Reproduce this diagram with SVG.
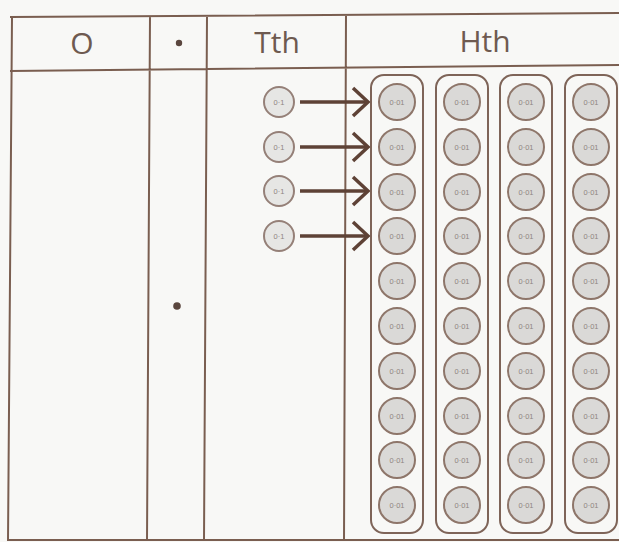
<svg xmlns="http://www.w3.org/2000/svg" width="619" height="542" viewBox="0 0 619 542">
<style>
.grid{fill:none;stroke:#7a5e50;stroke-width:2}
.hd{font-family:"Open Sans","Noto Sans",sans-serif;font-size:30px;fill:#6e5a50;text-anchor:middle}
.col{fill:none;stroke:#7e6458;stroke-width:2}
.c{fill:#dad9d7;stroke:#8e766a;stroke-width:2}
.ct{fill:#e6e6e4;stroke:#958078;stroke-width:2}
.lb{font-family:"Liberation Sans",Arial,sans-serif;font-size:7.5px;fill:#8f8580;text-anchor:middle}
.ar{stroke:#5e4236;stroke-width:3.5;fill:none}
</style>
<defs>
<marker id="ah" markerWidth="22" markerHeight="34" refX="18" refY="16" orient="auto" markerUnits="userSpaceOnUse">
<polyline points="3,2 18,16 3,30" fill="none" stroke="#5e4236" stroke-width="3.5"/>
</marker>
</defs>
<rect width="619" height="542" fill="#f8f8f6"/>
<g id="table">
<path class="grid" d="M10,17 L619,13 M10,71 L619,65 M12,17 L8,541 M150,16 L147,541 M207,16 L204,541 M346,14 L344,541 M8,540 L619,540"/>
<text class="hd" x="82" y="54">O</text>
<circle cx="179" cy="43" r="3.2" fill="#5a463e"/>
<text class="hd" x="277" y="53">Tth</text>
<text class="hd" x="485" y="52">Hth</text>
<circle cx="177" cy="306" r="3.8" fill="#5a463e"/>
</g>
<g id="tth">
<g id="t1"><circle class="ct" cx="279" cy="102" r="15"/><text class="lb" x="279" y="104.5">0·1</text></g>
<g id="t2"><circle class="ct" cx="279" cy="147" r="15"/><text class="lb" x="279" y="149.5">0·1</text></g>
<g id="t3"><circle class="ct" cx="279" cy="191" r="15"/><text class="lb" x="279" y="193.5">0·1</text></g>
<g id="t4"><circle class="ct" cx="279" cy="236" r="15"/><text class="lb" x="279" y="238.5">0·1</text></g>
</g>
<g id="connectors">
<line class="ar" x1="300" y1="102" x2="368" y2="102" marker-end="url(#ah)"/>
<line class="ar" x1="300" y1="147" x2="368" y2="147" marker-end="url(#ah)"/>
<line class="ar" x1="300" y1="191" x2="368" y2="191" marker-end="url(#ah)"/>
<line class="ar" x1="300" y1="236" x2="368" y2="236" marker-end="url(#ah)"/>
</g>
<g id="hth1">
<rect class="col" x="371" y="75" width="52" height="458" rx="13"/>
<g id="h1-1"><circle class="c" cx="397" cy="102" r="18"/><text class="lb" x="397" y="104.5">0·01</text></g>
<g id="h1-2"><circle class="c" cx="397" cy="147" r="18"/><text class="lb" x="397" y="149.5">0·01</text></g>
<g id="h1-3"><circle class="c" cx="397" cy="192" r="18"/><text class="lb" x="397" y="194.5">0·01</text></g>
<g id="h1-4"><circle class="c" cx="397" cy="236" r="18"/><text class="lb" x="397" y="238.5">0·01</text></g>
<g id="h1-5"><circle class="c" cx="397" cy="281" r="18"/><text class="lb" x="397" y="283.5">0·01</text></g>
<g id="h1-6"><circle class="c" cx="397" cy="326" r="18"/><text class="lb" x="397" y="328.5">0·01</text></g>
<g id="h1-7"><circle class="c" cx="397" cy="371" r="18"/><text class="lb" x="397" y="373.5">0·01</text></g>
<g id="h1-8"><circle class="c" cx="397" cy="416" r="18"/><text class="lb" x="397" y="418.5">0·01</text></g>
<g id="h1-9"><circle class="c" cx="397" cy="460" r="18"/><text class="lb" x="397" y="462.5">0·01</text></g>
<g id="h1-10"><circle class="c" cx="397" cy="505" r="18"/><text class="lb" x="397" y="507.5">0·01</text></g>
</g>
<g id="hth2">
<rect class="col" x="436" y="75" width="52" height="458" rx="13"/>
<g id="h2-1"><circle class="c" cx="462" cy="102" r="18"/><text class="lb" x="462" y="104.5">0·01</text></g>
<g id="h2-2"><circle class="c" cx="462" cy="147" r="18"/><text class="lb" x="462" y="149.5">0·01</text></g>
<g id="h2-3"><circle class="c" cx="462" cy="192" r="18"/><text class="lb" x="462" y="194.5">0·01</text></g>
<g id="h2-4"><circle class="c" cx="462" cy="236" r="18"/><text class="lb" x="462" y="238.5">0·01</text></g>
<g id="h2-5"><circle class="c" cx="462" cy="281" r="18"/><text class="lb" x="462" y="283.5">0·01</text></g>
<g id="h2-6"><circle class="c" cx="462" cy="326" r="18"/><text class="lb" x="462" y="328.5">0·01</text></g>
<g id="h2-7"><circle class="c" cx="462" cy="371" r="18"/><text class="lb" x="462" y="373.5">0·01</text></g>
<g id="h2-8"><circle class="c" cx="462" cy="416" r="18"/><text class="lb" x="462" y="418.5">0·01</text></g>
<g id="h2-9"><circle class="c" cx="462" cy="460" r="18"/><text class="lb" x="462" y="462.5">0·01</text></g>
<g id="h2-10"><circle class="c" cx="462" cy="505" r="18"/><text class="lb" x="462" y="507.5">0·01</text></g>
</g>
<g id="hth3">
<rect class="col" x="500" y="75" width="52" height="458" rx="13"/>
<g id="h3-1"><circle class="c" cx="526" cy="102" r="18"/><text class="lb" x="526" y="104.5">0·01</text></g>
<g id="h3-2"><circle class="c" cx="526" cy="147" r="18"/><text class="lb" x="526" y="149.5">0·01</text></g>
<g id="h3-3"><circle class="c" cx="526" cy="192" r="18"/><text class="lb" x="526" y="194.5">0·01</text></g>
<g id="h3-4"><circle class="c" cx="526" cy="236" r="18"/><text class="lb" x="526" y="238.5">0·01</text></g>
<g id="h3-5"><circle class="c" cx="526" cy="281" r="18"/><text class="lb" x="526" y="283.5">0·01</text></g>
<g id="h3-6"><circle class="c" cx="526" cy="326" r="18"/><text class="lb" x="526" y="328.5">0·01</text></g>
<g id="h3-7"><circle class="c" cx="526" cy="371" r="18"/><text class="lb" x="526" y="373.5">0·01</text></g>
<g id="h3-8"><circle class="c" cx="526" cy="416" r="18"/><text class="lb" x="526" y="418.5">0·01</text></g>
<g id="h3-9"><circle class="c" cx="526" cy="460" r="18"/><text class="lb" x="526" y="462.5">0·01</text></g>
<g id="h3-10"><circle class="c" cx="526" cy="505" r="18"/><text class="lb" x="526" y="507.5">0·01</text></g>
</g>
<g id="hth4">
<rect class="col" x="565" y="75" width="52" height="458" rx="13"/>
<g id="h4-1"><circle class="c" cx="591" cy="102" r="18"/><text class="lb" x="591" y="104.5">0·01</text></g>
<g id="h4-2"><circle class="c" cx="591" cy="147" r="18"/><text class="lb" x="591" y="149.5">0·01</text></g>
<g id="h4-3"><circle class="c" cx="591" cy="192" r="18"/><text class="lb" x="591" y="194.5">0·01</text></g>
<g id="h4-4"><circle class="c" cx="591" cy="236" r="18"/><text class="lb" x="591" y="238.5">0·01</text></g>
<g id="h4-5"><circle class="c" cx="591" cy="281" r="18"/><text class="lb" x="591" y="283.5">0·01</text></g>
<g id="h4-6"><circle class="c" cx="591" cy="326" r="18"/><text class="lb" x="591" y="328.5">0·01</text></g>
<g id="h4-7"><circle class="c" cx="591" cy="371" r="18"/><text class="lb" x="591" y="373.5">0·01</text></g>
<g id="h4-8"><circle class="c" cx="591" cy="416" r="18"/><text class="lb" x="591" y="418.5">0·01</text></g>
<g id="h4-9"><circle class="c" cx="591" cy="460" r="18"/><text class="lb" x="591" y="462.5">0·01</text></g>
<g id="h4-10"><circle class="c" cx="591" cy="505" r="18"/><text class="lb" x="591" y="507.5">0·01</text></g>
</g>
</svg>
